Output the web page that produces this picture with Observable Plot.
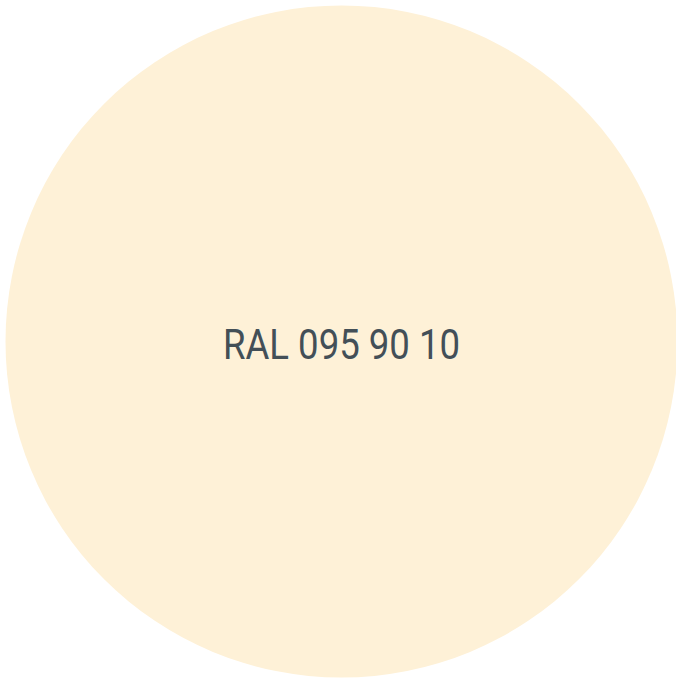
<!DOCTYPE html>
<html>
<head>
<meta charset="utf-8">
<script src="https://cdn.jsdelivr.net/npm/d3@7"></script>
<script src="https://cdn.jsdelivr.net/npm/@observablehq/plot@0.6"></script>
<style>
  html, body { margin: 0; padding: 0; background: #ffffff; }
</style>
</head>
<body>
<div id="chart"></div>
<script>
const colorNames = ["RAL 095 90 10"];
const colorHex = ["#fef1d7"];
const labelColor = "#434f57";

const data = colorNames.map((name, i) => ({name, x: 0, y: 0, fill: colorHex[i]}));

const chart = Plot.plot({
  width: 676,
  height: 678,
  margin: 0,
  x: {domain: [-1, 1], range: [5, 677], axis: null},
  y: {domain: [-1, 1], range: [677, 5], axis: null},
  marks: [
    Plot.dot(data, {x: "x", y: "y", r: 336, fill: d => d.fill, stroke: null}),
    Plot.text(data, {
      x: "x", y: "y", text: "name",
      fill: labelColor, fontSize: 43,
      fontFamily: "Roboto, 'Liberation Sans', sans-serif",
      dy: 4
    })
  ]
});
document.getElementById("chart").appendChild(chart);
chart.querySelectorAll("text").forEach(t => {
  t.setAttribute("textLength", 237);
  t.setAttribute("lengthAdjust", "spacingAndGlyphs");
});
</script>
</body>
</html>
